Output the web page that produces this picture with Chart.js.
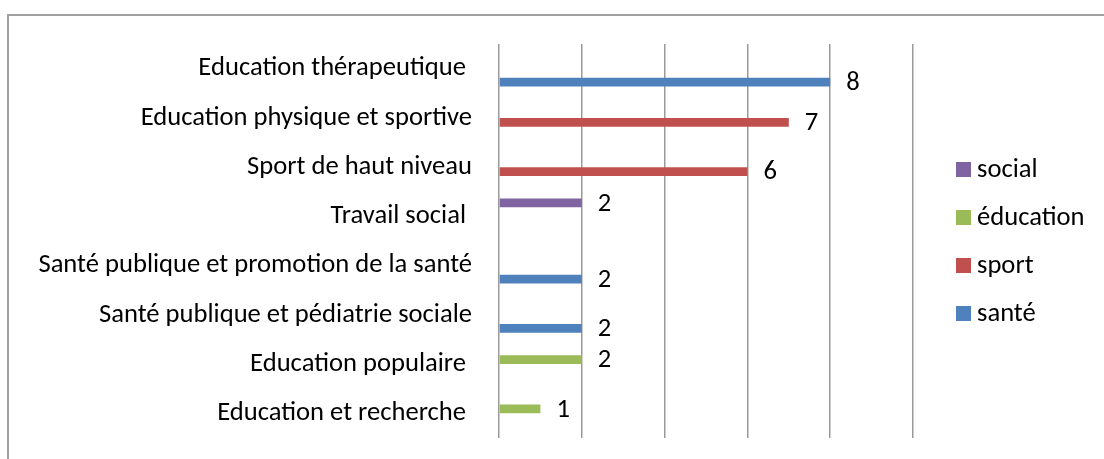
<!DOCTYPE html>
<html>
<head>
<meta charset="utf-8">
<script src="https://cdn.jsdelivr.net/npm/chart.js@4.4.1/dist/chart.umd.min.js"></script>
<style>
  html, body { margin: 0; padding: 0; background: #ffffff; }
  #wrap { position: relative; width: 1104px; height: 459px; overflow: hidden; }
  #frame { position: absolute; left: 7px; top: 14px; width: 1200px; height: 600px;
           border-left: 2px solid #a0a0a0; border-top: 2px solid #a0a0a0; }
  canvas { position: absolute; left: 0; top: 0; }
</style>
</head>
<body>
<div id="wrap">
  <div id="frame"></div>
  <canvas id="c" width="1104" height="459"></canvas>
</div>
<script>
// ---- data ----
const categories = [
  "Education thérapeutique ",
  "Education physique et sportive",
  "Sport de haut niveau",
  "Travail social ",
  "Santé publique et promotion de la santé",
  "Santé publique et pédiatrie sociale",
  "Education populaire ",
  "Education et recherche "
];
const seriesNames = ["social", "éducation", "sport", "santé"];
const socialValues    = [null, null, null, 2, null, null, null, null];
const educationValues = [null, null, null, null, null, null, 2, 1];
const sportValues     = [null, 7, 6, null, null, null, null, null];
const santeValues     = [8, null, null, null, 2, 2, null, null];
const xTicks = [0, 2, 4, 6, 8, 10];

// ---- style ----
const colors = ["#8064A2", "#9BBB59", "#C0504D", "#4F81BD"];
const family = "Carlito, Lato, 'Noto Sans', sans-serif";
const mctx = document.createElement('canvas').getContext('2d');
mctx.font = "100px " + family;
const refW = mctx.measureText("Santé publique et promotion de la santé").width;
const fontSize = Math.round(100 * 434 / refW * 10) / 10;

Chart.defaults.font.family = family;
Chart.defaults.font.size = fontSize;
Chart.defaults.color = "#000000";

const valueLabels = {
  id: 'valueLabels',
  afterDatasetsDraw(chart) {
    const ctx = chart.ctx;
    ctx.save();
    ctx.font = fontSize + "px " + family;
    ctx.fillStyle = "#000";
    ctx.textAlign = "left";
    ctx.textBaseline = "middle";
    chart.data.datasets.forEach((ds, di) => {
      const meta = chart.getDatasetMeta(di);
      meta.data.forEach((el, i) => {
        const v = ds.data[i];
        if (v === null || v === undefined) return;
        ctx.fillText(String(v), el.x + 16, el.y + 1);
      });
    });
    ctx.restore();
  }
};

const sideLegend = {
  id: 'sideLegend',
  afterDraw(chart) {
    const ctx = chart.ctx;
    const area = chart.chartArea;
    const n = chart.data.datasets.length;
    const step = 48;
    const cy = (area.top + area.bottom) / 2;
    const x0 = area.right + 43;
    ctx.save();
    ctx.font = fontSize + "px " + family;
    ctx.textBaseline = "middle";
    ctx.textAlign = "left";
    chart.data.datasets.forEach((ds, i) => {
      const y = cy + (i - (n - 1) / 2) * step;
      ctx.fillStyle = ds.backgroundColor;
      ctx.fillRect(x0, y - 7, 15, 15);
      ctx.fillStyle = "#000";
      ctx.fillText(ds.label, x0 + 21, y + 1);
    });
    ctx.restore();
  }
};

new Chart(document.getElementById('c'), {
  type: 'bar',
  data: {
    labels: categories,
    datasets: [
      { label: seriesNames[0], data: socialValues, backgroundColor: colors[0] },
      { label: seriesNames[1], data: educationValues, backgroundColor: colors[1] },
      { label: seriesNames[2], data: sportValues, backgroundColor: colors[2] },
      { label: seriesNames[3], data: santeValues, backgroundColor: colors[3] }
    ]
  },
  options: {
    indexAxis: 'y',
    responsive: false,
    animation: false,
    events: [],
    categoryPercentage: 0.731,
    barPercentage: 0.95,
    layout: { padding: { top: 44, bottom: 21, left: 0, right: 191 } },
    plugins: { legend: { display: false }, tooltip: { enabled: false } },
    scales: {
      x: {
        min: xTicks[0],
        max: xTicks[xTicks.length - 1],
        afterBuildTicks(scale) { scale.ticks = xTicks.map(v => ({ value: v })); },
        afterFit(scale) {
          scale.height = 0;
          scale.paddingLeft = 0; scale.paddingRight = 0;
          scale.paddingTop = 0; scale.paddingBottom = 0;
        },
        ticks: { display: false },
        border: { display: false },
        grid: { color: "#9a9a9a", lineWidth: 1.5, drawTicks: false }
      },
      y: {
        afterFit(scale) {
          scale.width = 499;
          scale.paddingTop = 0; scale.paddingBottom = 0;
          scale.paddingLeft = 0; scale.paddingRight = 0;
        },
        border: { display: false },
        grid: { display: false, drawTicks: false },
        ticks: { padding: 27, color: "#000" }
      }
    }
  },
  plugins: [valueLabels, sideLegend]
});
</script>
</body>
</html>
